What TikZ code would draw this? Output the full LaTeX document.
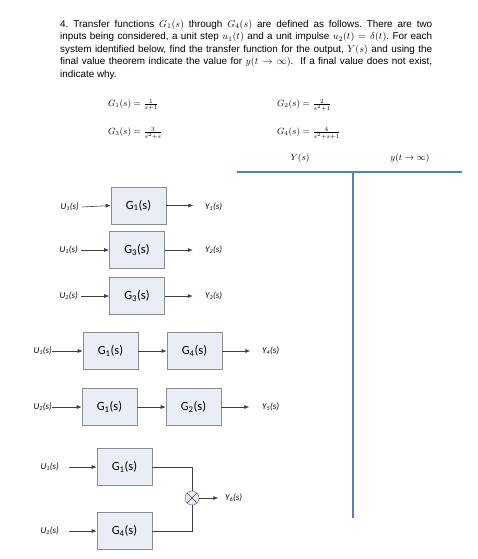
\documentclass[tikz,border=0pt]{standalone}
\usepackage{fontspec}
\setmainfont{Liberation Sans}
\newfontfamily\carl{Carlito}
\usetikzlibrary{arrows.meta}
\definecolor{boxfill}{HTML}{E9EDF5}
\definecolor{boxdraw}{HTML}{8C8C8C}
\definecolor{wordblue}{HTML}{4F81BD}
\definecolor{linegray}{HTML}{404040}
\tikzset{
  blk/.style={draw=boxdraw, fill=boxfill, line width=0.6pt, minimum width=55pt, minimum height=37pt, inner sep=0pt, font=\carl\fontsize{12.5}{14}\selectfont},
  sig/.style={font=\carl\itshape\fontsize{9}{10}\selectfont, inner sep=0pt},
  conn/.style={draw=linegray, line width=0.6pt},
  arr/.style={conn, -{Latex[length=5pt,width=4pt]}},
  eq/.style={inner sep=0pt, anchor=west, font=\fontsize{9}{10}\selectfont},
  tbl/.style={draw=wordblue, line width=1.3pt}
}
\begin{document}
\begin{tikzpicture}[x=1pt,y=-1pt]
\useasboundingbox (0,0) rectangle (477,559);
% question text
\node[anchor=north west, text width=372pt, align=justify, inner sep=0pt, font=\fontsize{9.9}{12.5}\selectfont\frenchspacing] (q) at (60,19.5)
{4.\ Transfer functions $G_1(s)$ through $G_4(s)$ are defined as follows. There are two\linebreak
inputs being considered, a unit step $u_1(t)$ and a unit impulse $u_2(t)=\delta(t)$. For each\linebreak
system identified below, find the transfer function for the output, $Y(s)$ and using the\linebreak
final value theorem indicate the value for $y(t\rightarrow\infty)$.\ \ If a final value does not exist,\linebreak
indicate why.};
% transfer functions
\node[eq] (g1) at (108,105) {$G_1(s)=\frac{1}{s+1}$};
\node[eq] (g2) at (277,105) {$G_2(s)=\frac{2}{s^2+1}$};
\node[eq] (g3) at (108,133) {$G_3(s)=\frac{3}{s^2+s}$};
\node[eq] (g4) at (277,133) {$G_4(s)=\frac{4}{s^2+s+1}$};
% table
\node[inner sep=0pt, font=\fontsize{9}{10}\selectfont] (hY) at (300,158) {$Y(s)$};
\node[inner sep=0pt, font=\fontsize{9}{10}\selectfont] (hy) at (410,158) {$y(t\rightarrow\infty)$};
\coordinate (tl) at (237,172);
\coordinate (tr) at (462,172);
\coordinate (tm) at (353,172);
\coordinate (tb) at (353,518);
\draw[tbl] (tl) -- (tr);
\draw[tbl] (tm) -- (tb);
% row 1
\node[blk] (b1) at (138.5,205.5) {G\textsubscript{1}(s)};
\node[sig, anchor=east] (u1) at (79,207) {U\textsubscript{1}(s)};
\node[sig, anchor=west] (y1) at (205,207) {Y\textsubscript{1}(s)};
\draw[arr] (u1.east) ++(3,0) -- (b1.west);
\draw[arr] (b1.east) -- ++(27,0);
% row 2
\node[blk] (b2) at (137,250) {G\textsubscript{3}(s)};
\node[sig, anchor=east] (u2) at (78,250) {U\textsubscript{1}(s)};
\node[sig, anchor=west] (y2) at (205,250) {Y\textsubscript{2}(s)};
\draw[arr] (u2.east) ++(3,0) -- (b2.west);
\draw[arr] (b2.east) -- ++(28,0);
% row 3
\node[blk] (b3) at (137,296) {G\textsubscript{3}(s)};
\node[sig, anchor=east] (u3) at (78,296) {U\textsubscript{2}(s)};
\node[sig, anchor=west] (y3) at (205,296) {Y\textsubscript{3}(s)};
\draw[arr] (u3.east) ++(3,0) -- (b3.west);
\draw[arr] (b3.east) -- ++(28,0);
% row 4
\node[blk] (b4a) at (110.5,351) {G\textsubscript{1}(s)};
\node[blk] (b4b) at (194.5,351) {G\textsubscript{4}(s)};
\node[sig, anchor=east] (u4) at (52,351) {U\textsubscript{1}(s)};
\node[sig, anchor=west] (y4) at (262,351) {Y\textsubscript{4}(s)};
\draw[arr] (u4.east) -- (b4a.west);
\draw[arr] (b4a.east) -- (b4b.west);
\draw[arr] (b4b.east) -- ++(28,0);
% row 5
\node[blk] (b5a) at (109.5,407) {G\textsubscript{1}(s)};
\node[blk] (b5b) at (193.5,407) {G\textsubscript{2}(s)};
\node[sig, anchor=east] (u5) at (52,407) {U\textsubscript{2}(s)};
\node[sig, anchor=west] (y5) at (262,407) {Y\textsubscript{5}(s)};
\draw[arr] (u5.east) -- (b5a.west);
\draw[arr] (b5a.east) -- (b5b.west);
\draw[arr] (b5b.east) -- ++(28,0);
% row 6
\node[blk] (b6a) at (124.5,467) {G\textsubscript{1}(s)};
\node[blk] (b6b) at (124.5,531) {G\textsubscript{4}(s)};
\node[sig, anchor=east] (u6a) at (59,467) {U\textsubscript{1}(s)};
\node[sig, anchor=east] (u6b) at (59,531) {U\textsubscript{2}(s)};
\node[circle, draw=boxdraw, fill=boxfill, line width=0.6pt, minimum size=14pt, inner sep=0pt] (sum) at (192,498) {};
\draw[linegray, line width=0.6pt] (sum.north west) -- (sum.south east) (sum.north east) -- (sum.south west);
\node[sig, anchor=west] (y6) at (225,498) {Y\textsubscript{6}(s)};
\draw[arr] (u6a.east) ++(10,0) -- (b6a.west);
\draw[arr] (u6b.east) ++(10,0) -- (b6b.west);
\draw[conn] (b6a.east) -| (sum.north);
\draw[conn] (b6b.east) -| (sum.south);
\draw[arr] (sum.east) -- ++(19,0);
\end{tikzpicture}
\end{document}
